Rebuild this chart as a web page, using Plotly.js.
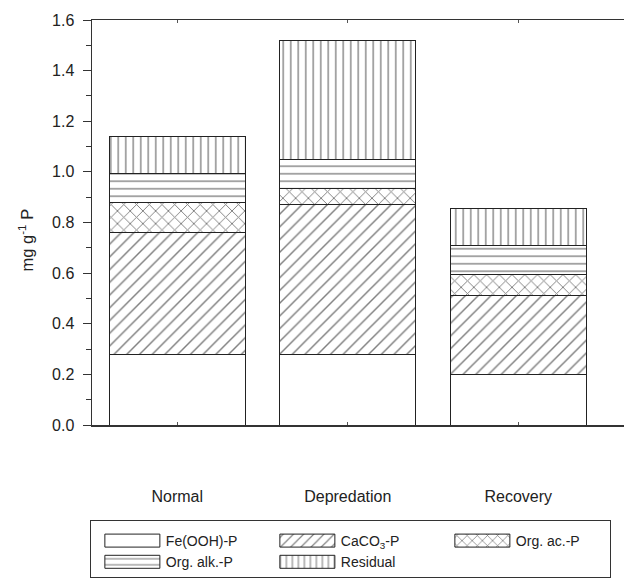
<!DOCTYPE html>
<html>
<head>
<meta charset="utf-8">
<script src="https://cdn.plot.ly/plotly-3.0.1.min.js"></script>
<style>html,body{margin:0;padding:0;background:#fff;}#chart{width:624px;height:579px;}</style>
</head>
<body>
<div id="chart"></div>
<script>
// Categories and stacked component values (mg g^-1 P)
var categories = ["Normal", "Depredation", "Recovery"];
var feOOH_P    = [0.28, 0.28, 0.20];
var caco3_P    = [0.48, 0.59, 0.31];
var orgAc_P    = [0.12, 0.065, 0.085];
var orgAlk_P   = [0.115, 0.115, 0.115];
var residual_P = [0.145, 0.47, 0.145];

var seriesNames = ["Fe(OOH)-P", "CaCO<sub>3</sub>-P", "Org. ac.-P", "Org. alk.-P", "Residual"];
var seriesValues = [feOOH_P, caco3_P, orgAc_P, orgAlk_P, residual_P];
var yTitle = "mg g<sup>-1</sup> P";
var patterns = [
  {shape: "", size: 8, solidity: 0.2},
  {shape: "/", size: 9, solidity: 0.16},
  {shape: "x", size: 9, solidity: 0.2},
  {shape: "-", size: 7.5, solidity: 0.18},
  {shape: "|", size: 7.5, solidity: 0.18}
];

var traces = seriesValues.map(function (vals, i) {
  return {
    type: "bar",
    name: seriesNames[i],
    x: categories,
    y: vals,
    width: 0.8,
    marker: {
      color: "#ffffff",
      line: {color: "#222222", width: 1},
      pattern: {
        shape: patterns[i].shape,
        size: patterns[i].size,
        solidity: patterns[i].solidity,
        fgcolor: "#000000",
        bgcolor: "#ffffff",
        fillmode: "overlay"
      }
    },
    hoverinfo: "x+y+name"
  };
});

var layout = {
  width: 624,
  height: 579,
  barmode: "stack",
  bargap: 0.2,
  paper_bgcolor: "#ffffff",
  plot_bgcolor: "#ffffff",
  font: {family: "Liberation Sans, Arial, sans-serif", size: 14, color: "#222222"},
  margin: {l: 92, r: 0, t: 20, b: 152},
  showlegend: true,
  legend: {
    orientation: "h",
    x: -0.004, xanchor: "left",
    y: -0.245, yanchor: "top",
    bordercolor: "#333333",
    borderwidth: 1,
    bgcolor: "#ffffff",
    font: {size: 14, color: "#222222"},
    traceorder: "normal",
    entrywidth: 95,
    itemwidth: 65
  },
  xaxis: {
    type: "category",
    range: [-0.5, 2.62],
    showline: true,
    linecolor: "#333333",
    linewidth: 1.5,
    mirror: "ticks",
    ticks: "inside",
    ticklen: 3,
    tickcolor: "#555555",
    tickfont: {size: 16, color: "#222222"},
    ticklabelstandoff: 56,
    showgrid: false,
    zeroline: false,
    automargin: false
  },
  yaxis: {
    range: [0, 1.6],
    dtick: 0.2,
    tick0: 0,
    tickformat: ".1f",
    showline: true,
    linecolor: "#333333",
    linewidth: 1.5,
    mirror: true,
    ticks: "outside",
    ticklen: 8,
    tickcolor: "#333333",
    tickfont: {size: 16, color: "#222222"},
    ticklabelstandoff: 5,
    minor: {dtick: 0.1, ticks: "outside", ticklen: 5, tickcolor: "#333333"},
    showgrid: false,
    zeroline: false,
    automargin: false
  },
  annotations: [{
    text: yTitle,
    xref: "paper", yref: "paper",
    x: -0.125, y: 0.457,
    xanchor: "center", yanchor: "middle",
    textangle: -90,
    showarrow: false,
    font: {size: 16.5, color: "#222222"}
  }]
};

Plotly.newPlot("chart", traces, layout, {displayModeBar: false, staticPlot: true}).then(function (gd) {
  // widen the legend swatches to look like the reference's long boxes
  var pts = gd.querySelectorAll(".legend .traces .legendpoints path");
  pts.forEach(function (p) {
    p.setAttribute("d", "M27.5,6.5H-27.5V-6.5H27.5Z");
    p.setAttribute("transform", "translate(41.5,0)");
  });
  // give the legend box the reference's padding and width
  var bg = gd.querySelector(".legend rect.bg");
  if (bg) {
    var r = bg.getBoundingClientRect();
    var y = parseFloat(bg.getAttribute("y")) || 0;
    bg.setAttribute("y", y - (r.top - 520));
    bg.setAttribute("height", 57);
    bg.setAttribute("width", 520);
  }
});
</script>
</body>
</html>
